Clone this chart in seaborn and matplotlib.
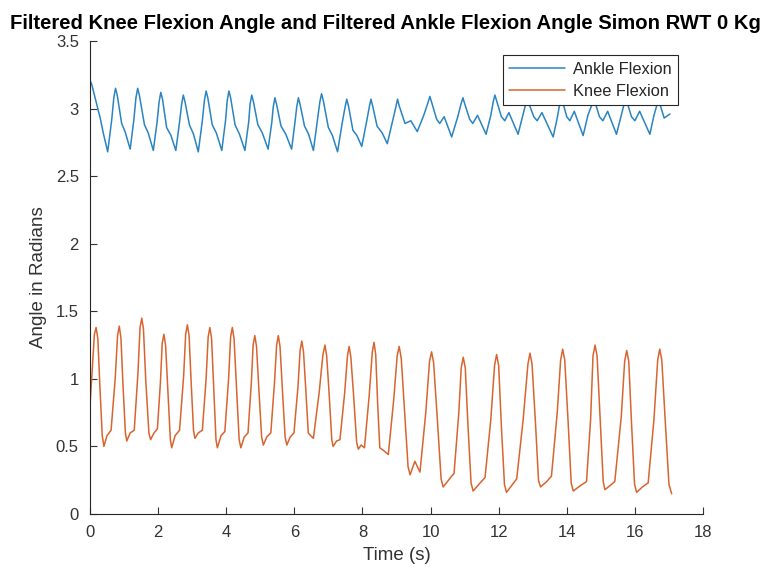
import numpy as np
import pandas as pd
import seaborn as sns
import matplotlib
matplotlib.use("Agg")
import matplotlib.pyplot as plt

# ---- data (time in s, angle in rad) ----
ankle_time = [
    0.00, 0.05, 0.15, 0.30, 0.39, 0.52, 0.64, 0.70, 0.75, 0.80,
    0.93, 1.03, 1.18, 1.29, 1.35, 1.40, 1.45,
    1.60, 1.71, 1.86, 1.97, 2.03, 2.08, 2.13,
    2.25, 2.38, 2.52, 2.63, 2.69, 2.74, 2.79,
    2.92, 3.04, 3.18, 3.30, 3.36, 3.41, 3.46,
    3.59, 3.71, 3.87, 3.98, 4.03, 4.08, 4.13,
    4.26, 4.39, 4.55, 4.66, 4.70, 4.75, 4.80,
    4.93, 5.06, 5.23, 5.34, 5.38, 5.43, 5.48,
    5.61, 5.75, 5.92, 6.02, 6.07, 6.12, 6.17,
    6.30, 6.42, 6.56, 6.68, 6.75, 6.80, 6.85,
    7.00, 7.12, 7.27, 7.41, 7.49, 7.54, 7.59,
    7.72, 7.84, 7.98, 8.12, 8.20, 8.25, 8.30,
    8.43, 8.58, 8.73, 8.88, 8.98, 9.03, 9.08,
    9.25, 9.42, 9.61, 9.80, 9.92, 9.98, 10.04,
    10.18, 10.27, 10.40, 10.62, 10.80, 10.89, 10.95, 11.01,
    11.15, 11.24, 11.38, 11.63, 11.77, 11.84, 11.89, 11.95,
    12.08, 12.18, 12.30, 12.57, 12.71, 12.79, 12.84, 12.90,
    13.03, 13.13, 13.27, 13.60, 13.72, 13.79, 13.84, 13.90,
    14.00, 14.09, 14.22, 14.48, 14.62, 14.74, 14.79, 14.85,
    14.96, 15.06, 15.20, 15.46, 15.60, 15.68, 15.73, 15.79,
    15.90, 16.00, 16.14, 16.44, 16.56, 16.64, 16.69, 16.75,
    16.86, 17.03,
]
ankle_angle = [
    3.21, 3.18, 3.08, 2.93, 2.82, 2.68, 2.92, 3.08, 3.15, 3.10,
    2.89, 2.83, 2.70, 2.92, 3.08, 3.15, 3.10,
    2.88, 2.82, 2.69, 2.90, 3.05, 3.12, 3.07,
    2.86, 2.80, 2.69, 2.90, 3.03, 3.10, 3.05,
    2.88, 2.81, 2.68, 2.91, 3.06, 3.13, 3.08,
    2.88, 2.82, 2.69, 2.91, 3.06, 3.13, 3.08,
    2.88, 2.81, 2.69, 2.90, 3.03, 3.10, 3.05,
    2.88, 2.82, 2.70, 2.90, 3.01, 3.08, 3.03,
    2.87, 2.81, 2.70, 2.90, 3.01, 3.08, 3.03,
    2.87, 2.81, 2.69, 2.92, 3.05, 3.11, 3.06,
    2.86, 2.80, 2.68, 2.90, 3.01, 3.07, 3.02,
    2.84, 2.80, 2.72, 2.90, 3.01, 3.07, 3.02,
    2.87, 2.82, 2.74, 2.90, 3.01, 3.07, 3.02,
    2.89, 2.91, 2.83, 2.95, 3.04, 3.09, 3.04,
    2.92, 2.89, 2.94, 2.79, 2.94, 3.03, 3.08, 3.03,
    2.92, 2.89, 2.95, 2.81, 2.95, 3.05, 3.10, 3.05,
    2.94, 2.91, 2.97, 2.81, 2.95, 3.03, 3.08, 3.03,
    2.94, 2.91, 2.97, 2.79, 2.93, 3.03, 3.08, 3.03,
    2.94, 2.91, 2.98, 2.80, 2.95, 3.03, 3.08, 3.03,
    2.94, 2.91, 2.98, 2.81, 2.95, 3.03, 3.08, 3.03,
    2.94, 2.91, 2.98, 2.81, 2.95, 3.02, 3.07, 3.02,
    2.93, 2.96,
]

knee_time = [
    0.00, 0.08, 0.13, 0.18, 0.23, 0.29, 0.36, 0.41, 0.50, 0.62, 0.74,
    0.81, 0.86, 0.91, 0.97, 1.04, 1.08, 1.18, 1.30, 1.41,
    1.47, 1.52, 1.57, 1.64, 1.73, 1.78, 1.88, 1.98, 2.07,
    2.12, 2.17, 2.22, 2.28, 2.36, 2.40, 2.50, 2.63, 2.75,
    2.81, 2.86, 2.91, 2.97, 3.04, 3.08, 3.18, 3.30, 3.41,
    3.47, 3.52, 3.57, 3.63, 3.70, 3.74, 3.85, 3.96, 4.07,
    4.13, 4.18, 4.23, 4.30, 4.38, 4.43, 4.53, 4.64, 4.74,
    4.79, 4.84, 4.89, 4.96, 5.04, 5.09, 5.19, 5.31, 5.42,
    5.48, 5.53, 5.58, 5.65, 5.73, 5.78, 5.88, 5.99, 6.11,
    6.17, 6.22, 6.27, 6.33, 6.41, 6.48, 6.56, 6.73,
    6.84, 6.90, 6.95, 7.02, 7.10, 7.14, 7.24, 7.34, 7.48,
    7.56, 7.61, 7.66, 7.74, 7.83, 7.88, 7.96, 8.06, 8.20,
    8.29, 8.34, 8.39, 8.45, 8.51, 8.62, 8.76, 8.92,
    9.02, 9.08, 9.14, 9.24, 9.34, 9.40, 9.54, 9.69, 9.86,
    9.97, 10.03, 10.09, 10.20, 10.31, 10.37, 10.62, 10.69, 10.83,
    10.90, 10.96, 11.02, 11.10, 11.19, 11.25, 11.42, 11.60, 11.77,
    11.88, 11.94, 12.00, 12.08, 12.17, 12.23, 12.38, 12.53, 12.72,
    12.86, 12.92, 12.98, 13.08, 13.17, 13.23, 13.41, 13.55, 13.72,
    13.82, 13.88, 13.94, 14.04, 14.13, 14.19, 14.40, 14.58, 14.70,
    14.77, 14.83, 14.89, 14.98, 15.07, 15.12, 15.27, 15.41, 15.60,
    15.70, 15.76, 15.82, 15.90, 15.99, 16.05, 16.22, 16.39, 16.56,
    16.67, 16.73, 16.79, 16.90, 17.00, 17.08,
]
knee_angle = [
    0.80, 1.12, 1.33, 1.38, 1.30, 0.95, 0.58, 0.50, 0.58, 0.62, 1.00,
    1.32, 1.39, 1.30, 0.95, 0.60, 0.54, 0.60, 0.62, 1.05,
    1.38, 1.45, 1.37, 0.98, 0.60, 0.55, 0.60, 0.63, 0.98,
    1.26, 1.33, 1.25, 0.95, 0.55, 0.49, 0.58, 0.62, 1.02,
    1.33, 1.40, 1.32, 0.98, 0.62, 0.56, 0.60, 0.62, 1.00,
    1.31, 1.38, 1.30, 0.95, 0.55, 0.49, 0.58, 0.61, 1.00,
    1.31, 1.38, 1.30, 0.95, 0.55, 0.49, 0.57, 0.60, 0.98,
    1.25, 1.32, 1.24, 0.92, 0.57, 0.51, 0.57, 0.60, 0.98,
    1.25, 1.32, 1.24, 0.92, 0.57, 0.51, 0.57, 0.60, 0.95,
    1.21, 1.28, 1.20, 0.95, 0.60, 0.58, 0.56, 0.90,
    1.18, 1.25, 1.17, 0.90, 0.55, 0.50, 0.54, 0.55, 0.90,
    1.17, 1.24, 1.16, 0.88, 0.53, 0.48, 0.51, 0.49, 0.88,
    1.20, 1.27, 1.18, 0.80, 0.49, 0.47, 0.44, 0.85,
    1.17, 1.24, 1.15, 0.75, 0.35, 0.29, 0.39, 0.31, 0.75,
    1.13, 1.20, 1.12, 0.70, 0.26, 0.20, 0.28, 0.30, 0.75,
    1.08, 1.16, 1.08, 0.65, 0.23, 0.17, 0.22, 0.27, 0.70,
    1.10, 1.18, 1.10, 0.65, 0.22, 0.16, 0.21, 0.26, 0.70,
    1.11, 1.19, 1.11, 0.68, 0.25, 0.20, 0.24, 0.28, 0.75,
    1.14, 1.22, 1.14, 0.68, 0.23, 0.17, 0.21, 0.24, 0.70,
    1.17, 1.25, 1.17, 0.70, 0.24, 0.18, 0.21, 0.24, 0.72,
    1.13, 1.21, 1.13, 0.68, 0.22, 0.16, 0.20, 0.23, 0.70,
    1.14, 1.22, 1.14, 0.65, 0.22, 0.15,
]

labels = ["Ankle Flexion", "Knee Flexion"]
colors = ["#2a84c2", "#d8642f"]

df = pd.concat([
    pd.DataFrame({"t": ankle_time, "angle": ankle_angle, "joint": labels[0]}),
    pd.DataFrame({"t": knee_time, "angle": knee_angle, "joint": labels[1]}),
])

sns.set_theme(style="white")
plt.rcParams["font.family"] = ["Liberation Sans", "DejaVu Sans"]

fig = plt.figure(figsize=(7.71, 5.72), dpi=100)
ax = fig.add_axes([0.1167, 0.1014, 0.7951, 0.8269])

sns.lineplot(data=df, x="t", y="angle", hue="joint", hue_order=labels,
             palette=colors, estimator=None, sort=False, linewidth=1.1, ax=ax)

ax.set_xlim(0, 18)
ax.set_ylim(0, 3.5)
ax.set_xticks(np.arange(0, 19, 2))
ax.set_yticks(np.arange(0, 3.51, 0.5))
ax.set_yticklabels(["0", "0.5", "1", "1.5", "2", "2.5", "3", "3.5"])

for side in ["top", "right"]:
    ax.spines[side].set_visible(False)
for side in ["left", "bottom"]:
    ax.spines[side].set_color("#262626")
    ax.spines[side].set_linewidth(0.8)

ax.tick_params(direction="in", length=5, width=0.8, colors="#333333",
               labelsize=12, left=True, bottom=True, pad=8)
ax.set_xlabel("Time (s)", fontsize=13.5, color="#333333", labelpad=5)
ax.set_ylabel("Angle in Radians", fontsize=13.5, color="#333333", labelpad=6)
# title starts near the left edge of the figure, as in the reference
ax.set_title("Filtered Knee Flexion Angle and Filtered Ankle Flexion Angle Simon RWT 0 Kg",
             fontsize=14.6, fontweight="bold", color="black", pad=9,
             loc="left", x=(10 - 90) / 613)

leg = ax.legend(loc="upper right", bbox_to_anchor=(0.96, 0.97), borderaxespad=0,
                fontsize=11.8, frameon=True, fancybox=False, framealpha=1,
                edgecolor="#262626", borderpad=0.4, handlelength=3.4,
                labelspacing=0.42, handletextpad=0.5)
leg.get_frame().set_linewidth(0.8)

fig.savefig("out.png", dpi=100)
